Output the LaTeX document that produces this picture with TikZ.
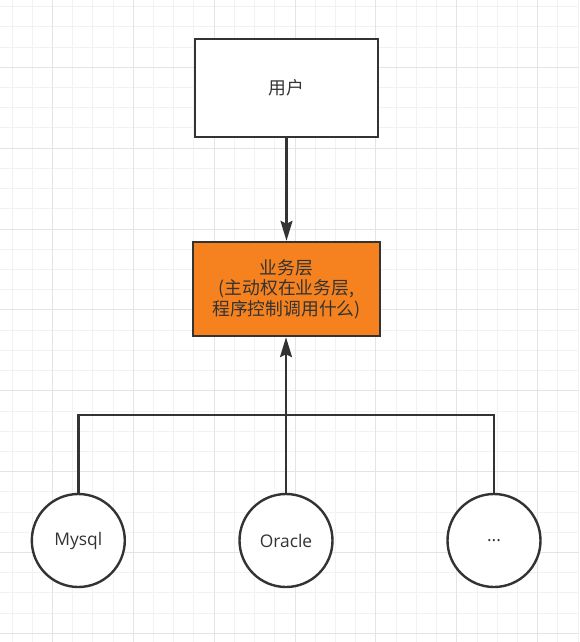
\documentclass[tikz,border=0pt]{standalone}
\usepackage{fontspec}
\setmainfont{Open Sans}
\newfontfamily\cjk{Noto Sans CJK SC}
\usepackage{xcolor}
\usepackage{tikz}
\usetikzlibrary{arrows.meta, positioning}
\definecolor{linegray}{HTML}{333333}
\definecolor{bizorange}{HTML}{F5821F}
\definecolor{gridminor}{HTML}{F2F2F2}
\definecolor{gridmajor}{HTML}{E4E4E4}
\tikzset{
  box/.style={rectangle, draw=linegray, line width=2.4pt, minimum width=183pt, minimum height=98pt, text=linegray, align=center, font=\cjk\fontsize{17.8}{20.5}\selectfont},
  db/.style={circle, draw=linegray, line width=2.4pt, fill=white, minimum size=93pt, inner sep=0pt, text=linegray, font=\fontsize{17.4}{20}\selectfont},
  arrow/.style={draw=linegray, line width=2.4pt, -{Stealth[length=20pt, width=12pt, inset=3pt]}},
  link/.style={draw=linegray, line width=2.4pt}
}

\begin{document}
\begin{tikzpicture}[x=1pt, y=-1pt]
\useasboundingbox[fill=white] (0,0) rectangle (579,642);
% background grid
\foreach \i in {0,...,28} \draw[gridminor, line width=1pt] (12+20.22*\i,0) -- (12+20.22*\i,642);
\foreach \j in {0,...,31} \draw[gridminor, line width=1pt] (0,6.6+20.22*\j) -- (579,6.6+20.22*\j);
\foreach \i in {2,6,...,26} \draw[gridmajor, line width=1pt] (12+20.22*\i,0) -- (12+20.22*\i,642);
\foreach \j in {3,7,...,31} \draw[gridmajor, line width=1pt] (0,6.6+20.22*\j) -- (579,6.6+20.22*\j);

% boxes
\node[box, fill=white] (user) at (286.5,88) {用户};
\node[box, fill=bizorange, minimum width=187pt, minimum height=94pt] (biz) at (286.5,289) {业务层\\(主动权在业务层,\\程序控制调用什么)};

% databases
\node[db] (mysql) at (78.3,540.5) {Mysql};
\node[db] (oracle) at (286,540.5) {Oracle};
\node[db] (more) at (494,540.5) {...};

\coordinate (bus) at (0,415);

\draw[arrow] (user) -- (biz);
\draw[arrow] (oracle) -- (oracle |- biz.south);
\draw[link] (mysql.north) |- (bus -| oracle) -| (more.north);
\end{tikzpicture}
\end{document}
